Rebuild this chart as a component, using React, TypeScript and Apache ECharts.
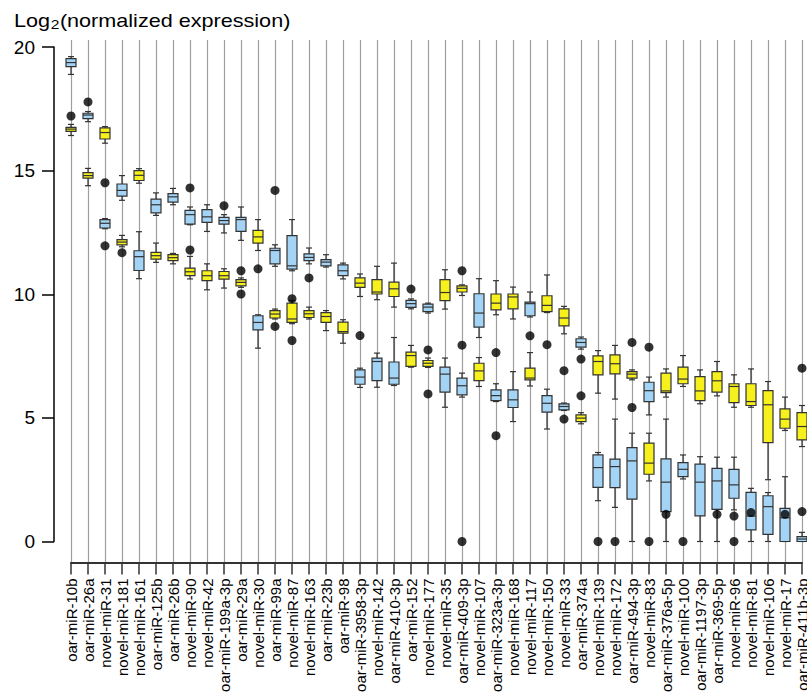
import React, { useEffect, useRef } from 'react';
import * as echarts from 'echarts';

const categories = [
  'oar-miR-10b', 'oar-miR-26a', 'novel-miR-31', 'novel-miR-181', 'novel-miR-161',
  'oar-miR-125b', 'oar-miR-26b', 'novel-miR-90', 'novel-miR-42', 'oar-miR-199a-3p',
  'oar-miR-29a', 'novel-miR-30', 'oar-miR-99a', 'novel-miR-87', 'novel-miR-163',
  'oar-miR-23b', 'oar-miR-98', 'oar-miR-3958-3p', 'novel-miR-142', 'oar-miR-410-3p',
  'oar-miR-152', 'novel-miR-177', 'novel-miR-35', 'oar-miR-409-3p', 'novel-miR-107',
  'oar-miR-323a-3p', 'novel-miR-168', 'novel-miR-117', 'novel-miR-150', 'novel-miR-33',
  'oar-miR-374a', 'novel-miR-139', 'novel-miR-172', 'oar-miR-494-3p', 'novel-miR-83',
  'oar-miR-376a-5p', 'novel-miR-100', 'oar-miR-1197-3p', 'oar-miR-369-5p', 'novel-miR-96',
  'novel-miR-81', 'novel-miR-106', 'novel-miR-17', 'oar-miR-411b-3p',
];

// [lower whisker, Q1, median, Q3, upper whisker]
const blueStats = [
  [18.89, 19.21, 19.37, 19.53, 19.61],
  [16.98, 17.10, 17.25, 17.32, 17.39],
  [12.65, 12.68, 12.87, 13.02, 13.06],
  [13.80, 13.97, 14.20, 14.46, 14.80],
  [10.63, 10.96, 11.52, 11.76, 12.53],
  [13.19, 13.29, 13.62, 13.85, 14.10],
  [13.62, 13.73, 13.94, 14.07, 14.28],
  [12.81, 12.84, 13.22, 13.39, 13.53],
  [12.54, 12.91, 13.13, 13.42, 13.62],
  [12.48, 12.84, 12.98, 13.11, 13.22],
  [12.18, 12.54, 13.02, 13.11, 13.53],
  [7.82, 8.56, 8.86, 9.13, 9.17],
  [11.13, 11.23, 11.77, 11.86, 12.0],
  [10.95, 11.02, 11.15, 12.37, 13.02],
  [11.23, 11.36, 11.49, 11.63, 11.87],
  [11.10, 11.15, 11.30, 11.40, 11.60],
  [10.62, 10.75, 10.95, 11.19, 11.26],
  [6.23, 6.36, 6.65, 6.94, 7.01],
  [6.24, 6.51, 7.28, 7.42, 7.62],
  [6.31, 6.36, 6.61, 7.26, 8.25],
  [9.41, 9.47, 9.62, 9.75, 9.81],
  [9.24, 9.30, 9.48, 9.60, 9.64],
  [5.43, 6.04, 6.77, 7.05, 7.42],
  [5.84, 5.93, 6.30, 6.61, 6.81],
  [8.25, 8.67, 9.24, 10.02, 10.63],
  [5.66, 5.70, 5.90, 6.13, 6.38],
  [4.85, 5.42, 5.73, 6.13, 6.87],
  [9.08, 9.13, 9.62, 9.68, 10.09],
  [4.55, 5.23, 5.59, 5.90, 6.16],
  [5.30, 5.32, 5.46, 5.57, 5.60],
  [7.78, 7.86, 8.05, 8.20, 8.27],
  [1.65, 2.19, 2.99, 3.50, 3.60],
  [1.38, 2.18, 3.03, 3.33, 4.95],
  [0, 1.71, 3.26, 3.80, 4.38],
  [5.12, 5.66, 6.10, 6.44, 6.65],
  [0, 1.21, 2.40, 3.34, 4.95],
  [2.53, 2.62, 2.92, 3.19, 3.50],
  [0, 1.04, 2.40, 3.13, 3.43],
  [0, 1.30, 2.45, 2.96, 3.41],
  [1.28, 1.75, 2.29, 2.92, 3.41],
  [0, 0.47, 1.03, 1.99, 2.15],
  [0, 0.29, 1.41, 1.85, 1.98],
  [0, 0, 0.96, 1.34, 2.62],
  [0, 0, 0.10, 0.20, 0.37],
];

const yellowStats = [
  [16.42, 16.59, 16.68, 16.75, 16.87],
  [14.39, 14.70, 14.80, 14.92, 15.09],
  [16.11, 16.28, 16.54, 16.73, 16.78],
  [11.92, 12.0, 12.11, 12.21, 12.38],
  [14.49, 14.60, 14.81, 15.0, 15.08],
  [11.29, 11.42, 11.56, 11.69, 12.07],
  [11.23, 11.36, 11.48, 11.60, 11.65],
  [10.62, 10.75, 10.91, 11.06, 11.53],
  [10.18, 10.55, 10.75, 10.95, 11.23],
  [10.25, 10.61, 10.75, 10.92, 11.03],
  [10.28, 10.34, 10.48, 10.59, 10.66],
  [11.77, 12.07, 12.32, 12.58, 13.02],
  [9.0, 9.04, 9.20, 9.34, 9.40],
  [8.81, 8.86, 9.0, 9.64, 9.75],
  [9.0, 9.06, 9.21, 9.34, 9.48],
  [8.53, 8.86, 9.10, 9.26, 9.34],
  [8.02, 8.43, 8.49, 8.87, 8.97],
  [9.91, 10.28, 10.45, 10.66, 10.82],
  [9.78, 10.01, 10.09, 10.59, 11.13],
  [9.48, 9.91, 10.22, 10.49, 11.26],
  [7.05, 7.08, 7.52, 7.66, 7.93],
  [7.04, 7.08, 7.21, 7.32, 7.42],
  [9.40, 9.74, 10.07, 10.59, 10.99],
  [9.95, 10.09, 10.24, 10.34, 10.38],
  [6.27, 6.51, 6.90, 7.21, 7.44],
  [9.17, 9.37, 9.64, 10.01, 10.55],
  [9.0, 9.41, 9.89, 10.01, 10.29],
  [6.29, 6.54, 6.61, 7.01, 7.64],
  [9.26, 9.30, 9.55, 9.94, 10.78],
  [8.40, 8.72, 9.04, 9.41, 9.51],
  [4.76, 4.85, 4.99, 5.12, 5.21],
  [6.0, 6.74, 7.28, 7.51, 7.72],
  [5.76, 6.78, 7.19, 7.55, 7.93],
  [6.54, 6.61, 6.77, 6.87, 6.94],
  [2.45, 2.72, 3.17, 3.98, 4.38],
  [5.84, 6.02, 6.09, 6.81, 6.98],
  [6.27, 6.38, 6.57, 7.05, 7.52],
  [5.57, 5.70, 6.09, 6.67, 6.94],
  [5.89, 6.04, 6.50, 6.87, 7.28],
  [5.43, 5.62, 6.27, 6.38, 6.74],
  [5.43, 5.50, 5.66, 6.38, 6.98],
  [2.5, 4.0, 5.53, 6.10, 6.47],
  [4.49, 4.58, 4.95, 5.36, 5.84],
  [3.84, 4.11, 4.65, 5.21, 5.5],
];

const outliers: [string, number][] = [
  ['oar-miR-10b', 17.21], ['oar-miR-26a', 17.78],
  ['novel-miR-31', 14.51], ['novel-miR-31', 11.96],
  ['novel-miR-181', 11.68],
  ['novel-miR-90', 14.30], ['novel-miR-90', 11.79],
  ['oar-miR-199a-3p', 13.58],
  ['oar-miR-29a', 10.95], ['oar-miR-29a', 10.01],
  ['novel-miR-30', 11.03],
  ['oar-miR-99a', 14.2], ['oar-miR-99a', 8.70],
  ['novel-miR-87', 9.82], ['novel-miR-87', 8.13],
  ['novel-miR-163', 10.66],
  ['oar-miR-3958-3p', 8.33],
  ['oar-miR-152', 10.21],
  ['novel-miR-177', 7.75], ['novel-miR-177', 5.97],
  ['oar-miR-409-3p', 10.95], ['oar-miR-409-3p', 7.94], ['oar-miR-409-3p', 0],
  ['oar-miR-323a-3p', 7.64], ['oar-miR-323a-3p', 4.28],
  ['novel-miR-117', 8.32],
  ['novel-miR-150', 7.96],
  ['novel-miR-33', 6.91], ['novel-miR-33', 4.95],
  ['oar-miR-374a', 7.38], ['oar-miR-374a', 5.89],
  ['novel-miR-139', 0],
  ['novel-miR-172', 0],
  ['oar-miR-494-3p', 8.05], ['oar-miR-494-3p', 5.42],
  ['novel-miR-83', 7.86], ['novel-miR-83', 0],
  ['oar-miR-376a-5p', 1.10],
  ['novel-miR-100', 0],
  ['oar-miR-369-5p', 1.10],
  ['novel-miR-96', 1.03], ['novel-miR-96', 0],
  ['novel-miR-81', 1.17],
  ['novel-miR-17', 1.10],
  ['oar-miR-411b-3p', 7.01], ['oar-miR-411b-3p', 1.21],
];

const yMin = 0;
const yMax = 20;
const yStep = 5;

const FONT = "'Liberation Sans', Arial, Helvetica, sans-serif";
const BLUE = '#a3d3f5';
const YELLOW = '#f6f01c';
const STROKE = '#333333';

function makeRenderer(fill: string) {
  return (_params: any, api: any) => {
    const i = api.value(0);
    const low = api.coord([i, api.value(1)]);
    const q1 = api.coord([i, api.value(2)]);
    const med = api.coord([i, api.value(3)]);
    const q3 = api.coord([i, api.value(4)]);
    const high = api.coord([i, api.value(5)]);
    const x = low[0];
    const hw = 5;
    const cw = 3;
    const ls = { stroke: STROKE, lineWidth: 1.2 };
    return {
      type: 'group',
      children: [
        { type: 'line', shape: { x1: x, y1: high[1], x2: x, y2: q3[1] }, style: ls },
        { type: 'line', shape: { x1: x, y1: low[1], x2: x, y2: q1[1] }, style: ls },
        { type: 'line', shape: { x1: x - cw, y1: high[1], x2: x + cw, y2: high[1] }, style: ls },
        { type: 'line', shape: { x1: x - cw, y1: low[1], x2: x + cw, y2: low[1] }, style: ls },
        {
          type: 'rect',
          shape: { x: x - hw, y: q3[1], width: hw * 2, height: Math.max(q1[1] - q3[1], 0.5) },
          style: { fill, stroke: STROKE, lineWidth: 1.2 },
        },
        { type: 'line', shape: { x1: x - hw, y1: med[1], x2: x + hw, y2: med[1] }, style: ls },
      ],
    };
  };
}

function measure(text: string, font: string): number {
  const c = document.createElement('canvas').getContext('2d');
  if (!c) return text.length * 9;
  c.font = font;
  return c.measureText(text).width;
}

export default function App() {
  const ref = useRef<HTMLDivElement>(null);
  useEffect(() => {
    if (!ref.current) return;
    const chart = echarts.init(ref.current, undefined, { renderer: 'svg' });

    const mainFont = `18px ${FONT}`;
    const subFont = `13px ${FONT}`;
    const w1 = measure('Log', mainFont);
    const w2 = measure('2', subFont);

    const option: any = {
      animation: false,
      backgroundColor: '#ffffff',
      graphic: [
        {
          type: 'group',
          x: 14,
          y: 12,
          scaleX: 1.2,
          children: [
            { type: 'text', x: 0, y: 0, style: { text: 'Log', font: mainFont, fill: '#000' } },
            { type: 'text', x: w1 + 0.5, y: 6, style: { text: '2', font: subFont, fill: '#000' } },
            { type: 'text', x: w1 + w2 + 1, y: 0, style: { text: '(normalized expression)', font: mainFont, fill: '#000' } },
          ],
        },
      ],
      grid: [
        { left: 71, right: 5, top: 47, height: 494.5, containLabel: false, outerBoundsMode: 'none' },
        { left: 71, right: 5, top: 40, height: 522.5, containLabel: false, outerBoundsMode: 'none' },
      ],
      xAxis: [
        {
          type: 'category',
          gridIndex: 0,
          data: categories,
          boundaryGap: false,
          offset: 21,
          axisLine: { show: true, onZero: false, lineStyle: { color: '#333', width: 2 } },
          axisTick: { show: true, length: 12, interval: 0, lineStyle: { color: '#333', width: 1.5 } },
          axisLabel: { interval: 0, rotate: 90, fontSize: 15, fontFamily: FONT, color: '#000', margin: 16 },
          splitLine: { show: false },
        },
        {
          type: 'category',
          gridIndex: 0,
          data: categories,
          boundaryGap: false,
          show: false,
        },
        {
          type: 'category',
          gridIndex: 1,
          data: categories,
          boundaryGap: false,
          axisLine: { show: false, onZero: false },
          axisTick: { show: false },
          axisLabel: { show: false },
          splitLine: { show: true, interval: 0, lineStyle: { color: '#9e9e9e', width: 1.2 } },
        },
      ],
      yAxis: [
        {
          type: 'value',
          gridIndex: 0,
          min: yMin,
          max: yMax,
          interval: yStep,
          offset: 17,
          axisLine: { show: true, onZero: false, lineStyle: { color: '#000', width: 1.5 } },
          axisTick: { show: true, length: 12, lineStyle: { color: '#000', width: 1.5 } },
          axisLabel: { fontSize: 19, fontFamily: FONT, color: '#000', margin: 19 },
          splitLine: { show: false },
        },
        { type: 'value', gridIndex: 1, show: false, min: 0, max: 1 },
      ],
      series: [
        {
          type: 'custom',
          name: 'blue',
          xAxisIndex: 0,
          yAxisIndex: 0,
          renderItem: makeRenderer(BLUE),
          encode: { x: 0, y: [1, 2, 3, 4, 5] },
          data: blueStats.map((s, i) => [i, ...s]),
          clip: false,
          z: 3,
        },
        {
          type: 'custom',
          name: 'yellow',
          xAxisIndex: 1,
          yAxisIndex: 0,
          renderItem: makeRenderer(YELLOW),
          encode: { x: 0, y: [1, 2, 3, 4, 5] },
          data: yellowStats.map((s, i) => [i, ...s]),
          clip: false,
          z: 3,
        },
        {
          type: 'scatter',
          name: 'outliers',
          xAxisIndex: 0,
          yAxisIndex: 0,
          symbol: 'circle',
          symbolSize: 9,
          itemStyle: { color: '#000' },
          data: outliers.map(([c, v]) => [categories.indexOf(c), v]),
          z: 5,
        },
      ],
    };
    chart.setOption(option);
    return () => chart.dispose();
  }, []);
  return (
    <div
      ref={ref}
      style={{ position: 'fixed', left: 0, top: 0, width: 807, height: 695, background: '#fff' }}
    />
  );
}
